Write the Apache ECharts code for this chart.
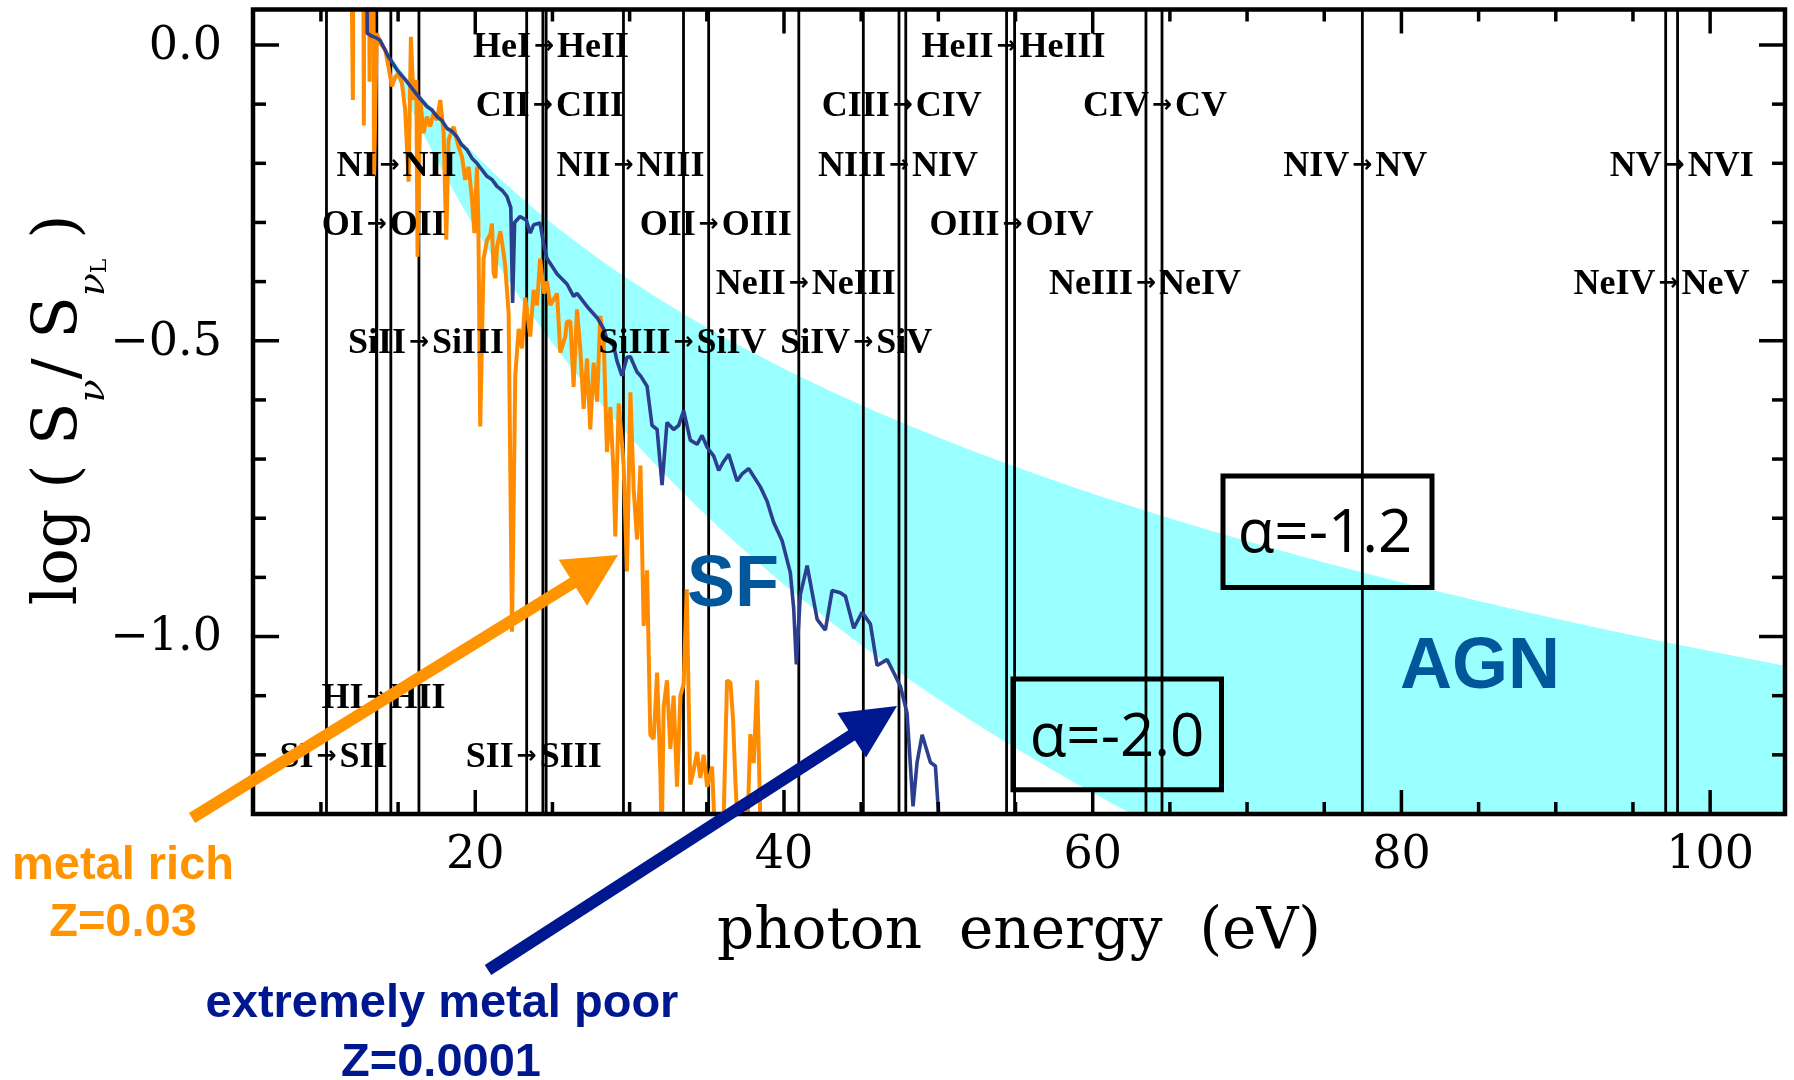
<!DOCTYPE html>
<html>
<head>
<meta charset="utf-8">
<script src="https://cdn.jsdelivr.net/npm/echarts@6/dist/echarts.min.js"></script>
<style>
  html, body { margin: 0; padding: 0; background: #fff; }
  #chart { width: 1794px; height: 1080px; }
</style>
</head>
<body>
<div id="chart"></div>
<script>
// Ionizing spectra of star-forming populations compared with AGN power laws

// axis extents
const energyRange = [5.6, 104.85];     // photon energy (eV)
const logRange = [-1.3, 0.06];         // log(S_nu / S_nuL)

// ticks and tick labels
const xTickLabels = [20, 40, 60, 80, 100];
const xMinorTicks = [10, 15, 25, 30, 35, 45, 50, 55, 65, 70, 75, 85, 90, 95];
const yTickLabels = [0, -0.5, -1.0];
const yMinorTicks = [-0.1, -0.2, -0.3, -0.4, -0.6, -0.7, -0.8, -0.9, -1.1, -1.2];

// ionization thresholds (eV)
const ionEnergies = [10.36, 13.60, 13.62, 14.53, 16.35, 23.33, 24.38, 24.59, 29.60, 33.49,
  35.12, 40.96, 45.14, 47.45, 47.89, 54.42, 54.94, 63.45, 64.49, 77.47, 97.12, 97.89];

// transition labels: [from, to, threshold energy, row]
const ionLabels = [
  ['HeI', 'HeII', 24.45, 0.0],
  ['HeII', 'HeIII', 54.42, 0.0],
  ['CII', 'CIII', 24.38, -0.1],
  ['CIII', 'CIV', 47.7, -0.1],
  ['CIV', 'CV', 64.49, -0.1],
  ['NI', 'NII', 14.45, -0.2],
  ['NII', 'NIII', 29.60, -0.2],
  ['NIII', 'NIV', 47.45, -0.2],
  ['NIV', 'NV', 77.47, -0.2],
  ['NV', 'NVI', 97.7, -0.2],
  ['OI', 'OII', 13.62, -0.3],
  ['OII', 'OIII', 35.12, -0.3],
  ['OIII', 'OIV', 54.8, -0.3],
  ['NeII', 'NeIII', 40.96, -0.4],
  ['NeIII', 'NeIV', 63.45, -0.4],
  ['NeIV', 'NeV', 97.3, -0.4],
  ['SiII', 'SiIII', 16.35, -0.5],
  ['SiIII', 'SiIV', 33.49, -0.5],
  ['SiIV', 'SiV', 45.14, -0.5],
  ['HI', 'HII', 13.60, -1.1],
  ['SI', 'SII', 10.36, -1.2],
  ['SII', 'SIII', 23.33, -1.2]
];

// AGN power-law band, normalised at the pivot energy
const agnAlphas = [-1.2, -2.0];
const agnPivotEnergy = 14.0;

// extremely metal poor population, Z = 0.0001  [eV, log flux ratio]
const metalPoorSpectrum = [
  [12.95, 0.3], [13.0, 0.02], [13.3, 0.015], [13.6, 0.012], [13.84, 0.008],
  [14.38, -0.020], [14.93, -0.042], [15.57, -0.062], [16.22, -0.084], [16.87, -0.104],
  [17.2, -0.110], [17.52, -0.121], [17.85, -0.128], [18.17, -0.141], [18.5, -0.146],
  [18.81, -0.155], [19.1, -0.168], [19.46, -0.177], [19.8, -0.192], [20.11, -0.200],
  [20.4, -0.210], [20.76, -0.222], [21.1, -0.228], [21.41, -0.239], [21.75, -0.246],
  [22.05, -0.256], [22.3, -0.275], [22.42, -0.436], [22.55, -0.300], [22.9, -0.290],
  [23.3, -0.296], [23.56, -0.318], [23.78, -0.304], [24.2, -0.301], [24.42, -0.335],
  [24.65, -0.361], [25.3, -0.387], [25.94, -0.404], [26.37, -0.425], [26.59, -0.420],
  [27.24, -0.442], [27.89, -0.461], [28.32, -0.480], [28.53, -0.498], [28.96, -0.508],
  [29.18, -0.534], [29.5, -0.559], [29.83, -0.528], [30.05, -0.527], [30.48, -0.553],
  [30.7, -0.559], [31.13, -0.577], [31.45, -0.643], [31.78, -0.650], [32.1, -0.744],
  [32.42, -0.638], [32.85, -0.650], [33.18, -0.643], [33.5, -0.618], [33.93, -0.668],
  [34.37, -0.675], [34.69, -0.660], [35.02, -0.680], [35.45, -0.695], [35.77, -0.719],
  [36.09, -0.704], [36.42, -0.692], [36.96, -0.737], [37.29, -0.725], [37.71, -0.716],
  [38.47, -0.747], [38.9, -0.771], [39.33, -0.807], [39.88, -0.838], [40.41, -0.892],
  [40.63, -0.953], [40.8, -1.047], [41.06, -0.929], [41.5, -0.880], [42.15, -0.971],
  [42.68, -0.989], [43.12, -0.922], [43.65, -0.926], [43.98, -0.932], [44.52, -0.986],
  [45.06, -0.959], [45.6, -0.979], [46.03, -1.049], [46.68, -1.039], [47.11, -1.061],
  [47.54, -1.084], [47.97, -1.129], [48.36, -1.287], [48.62, -1.213], [48.95, -1.166],
  [49.49, -1.213], [49.81, -1.219], [50.14, -1.35]
];

// metal rich population, Z = 0.03  [eV, log flux ratio]
const metalRichSpectrum = [
  [11.88, 0.4], [12.07, -0.093], [12.12, 0.4], [12.72, 0.4], [12.78, -0.136],
  [12.84, 0.4], [13.1, 0.4], [13.15, -0.062], [13.2, 0.4], [13.38, 0.4],
  [13.44, -0.222], [13.62, 0.02], [13.84, 0.003], [14.17, -0.008], [14.38, -0.037],
  [14.6, -0.070], [14.82, -0.054], [15.03, -0.048], [15.25, -0.065], [15.46, -0.110],
  [15.68, -0.231], [15.83, 0.014], [16.0, -0.093], [16.18, -0.059], [16.26, -0.358],
  [16.44, -0.093], [16.65, -0.149], [16.87, -0.121], [17.08, -0.138], [17.3, -0.115],
  [17.52, -0.127], [17.73, -0.093], [17.95, -0.149], [18.12, -0.329], [18.27, -0.160],
  [18.59, -0.138], [18.92, -0.172], [19.14, -0.189], [19.35, -0.228], [19.57, -0.206],
  [19.79, -0.262], [19.94, -0.318], [20.11, -0.206], [20.2, -0.300], [20.32, -0.645],
  [20.54, -0.361], [20.76, -0.330], [20.97, -0.320], [21.08, -0.302], [21.19, -0.386],
  [21.3, -0.394], [21.41, -0.341], [21.62, -0.315], [21.84, -0.352], [21.94, -0.374],
  [22.16, -0.453], [22.38, -0.992], [22.59, -0.559], [22.81, -0.480], [23.03, -0.513],
  [23.24, -0.427], [23.56, -0.493], [23.78, -0.414], [24.0, -0.440], [24.2, -0.361],
  [24.45, -0.420], [24.65, -0.400], [24.86, -0.440], [25.3, -0.420], [25.51, -0.520],
  [25.83, -0.493], [25.94, -0.468], [26.16, -0.467], [26.37, -0.578], [26.59, -0.447],
  [26.8, -0.513], [27.02, -0.615], [27.24, -0.530], [27.45, -0.650], [27.67, -0.537],
  [27.89, -0.603], [28.1, -0.458], [28.32, -0.500], [28.53, -0.688], [28.75, -0.612],
  [28.96, -0.724], [29.07, -0.831], [29.29, -0.606], [29.5, -0.671], [29.61, -0.710],
  [29.83, -0.890], [30.05, -0.587], [30.26, -0.750], [30.48, -0.836], [30.7, -0.711],
  [30.91, -0.982], [31.13, -0.888], [31.34, -1.166], [31.56, -1.173], [31.78, -1.061],
  [31.99, -1.230], [32.08, -1.35], [32.2, -1.120], [32.42, -1.074], [32.64, -1.190],
  [32.85, -1.100], [33.07, -1.254], [33.29, -1.100], [33.5, -1.080], [33.7, -0.920],
  [33.82, -1.100], [33.93, -1.250], [34.15, -1.226], [34.37, -1.195], [34.58, -1.239],
  [34.8, -1.200], [35.02, -1.254], [35.34, -1.220], [35.55, -1.35], [36.05, -1.35],
  [36.31, -1.074], [36.53, -1.078], [36.7, -1.140], [36.85, -1.244], [37.05, -1.35],
  [37.6, -1.35], [37.82, -1.165], [38.04, -1.214], [38.26, -1.074], [38.5, -1.35]
];

// colours
const bandColor = '#99ffff';
const poorColor = '#2b3f8e';
const richColor = '#ff8c00';
const richNoteColor = '#ff9400';
const poorNoteColor = '#00188f';
const regionColor = '#02569a';

// AGN band outline built from the two slopes
function bandPolygon() {
  const upper = [], lower = [];
  for (let e = agnPivotEnergy; e < energyRange[1] + 0.25; e += 0.25) {
    const x = Math.min(e, energyRange[1]);
    const lg = Math.log10(x / agnPivotEnergy);
    upper.push([x, Math.max(agnAlphas[0] * lg, logRange[0])]);
    lower.push([x, Math.max(agnAlphas[1] * lg, logRange[0])]);
  }
  return upper.concat(lower.reverse());
}
const bandPoints = bandPolygon();

const chart = echarts.init(document.getElementById('chart'), null, { renderer: 'canvas' });

const serif = '"DejaVu Serif", serif';
const labelFont = 'bold 36px "Liberation Serif", serif';

// text measuring for the composed y-axis title
const measureCtx = document.createElement('canvas').getContext('2d');
function textWidth(t, font) { measureCtx.font = font; return measureCtx.measureText(t).width; }

function yTitle(cx, cy) {
  const styles = {
    m: { font: '62px ' + serif, dy: 0 },
    s: { font: 'italic 38px ' + serif, dy: 34 },
    l: { font: '22px ' + serif, dy: 40 }
  };
  const parts = [['log ( S', 'm'], ['ν', 's'], ['/ S', 'm'], ['ν', 's'], ['L', 'l'], [' )', 'm']];
  const widths = parts.map(p => textWidth(p[0], styles[p[1]].font));
  const total = widths.reduce((a, b) => a + b, 0);
  let pos = -total / 2;
  const children = parts.map((p, i) => {
    const el = { type: 'text', x: pos, y: styles[p[1]].dy,
      style: { text: p[0], font: styles[p[1]].font, fill: '#000', align: 'left', verticalAlign: 'middle' } };
    pos += widths[i];
    return el;
  });
  return { type: 'group', z: 100, x: cx, y: cy, rotation: Math.PI / 2, children };
}

function arrow(tail, tip, color, shaft, headLen, headWidth) {
  const dx = tip[0] - tail[0], dy = tip[1] - tail[1];
  const len = Math.hypot(dx, dy);
  const ux = dx / len, uy = dy / len, px = -uy, py = ux;
  const bx = tip[0] - ux * headLen, by = tip[1] - uy * headLen;
  return [
    { type: 'line', z: 100, shape: { x1: tail[0], y1: tail[1], x2: bx + ux * 4, y2: by + uy * 4 },
      style: { stroke: color, lineWidth: shaft } },
    { type: 'polygon', z: 101, shape: { points: [tip,
        [bx + px * headWidth / 2, by + py * headWidth / 2],
        [bx - px * headWidth / 2, by - py * headWidth / 2]] },
      style: { fill: color } }
  ];
}

function alphaBox(alpha, rect, textPos) {
  return [
    { type: 'rect', z: 100, shape: { x: rect[0], y: rect[1], width: rect[2], height: rect[3] },
      style: { fill: 'none', stroke: '#000', lineWidth: 5 } },
    { type: 'text', z: 100, x: textPos[0], y: textPos[1],
      style: { text: 'α=' + alpha.toFixed(1), fill: '#000', align: 'center', verticalAlign: 'middle',
        font: '60px "Open Sans", sans-serif' } }
  ];
}

function note(text, x, y, color) {
  return { type: 'text', z: 100, x: x, y: y,
    style: { text: text, fill: color, align: 'center', verticalAlign: 'middle',
      font: 'bold 47px "Liberation Sans", Arial, sans-serif' } };
}

const option = {
  animation: false,
  backgroundColor: '#fff',
  grid: { left: 253, right: 9, top: 9.5, bottom: 266, show: false },
  xAxis: { type: 'value', min: energyRange[0], max: energyRange[1], show: false },
  yAxis: { type: 'value', min: logRange[0], max: logRange[1], show: false },
  series: [
    {
      name: 'AGN band', type: 'custom', z: 1, clip: true, silent: true,
      data: [[agnPivotEnergy, 0]],
      renderItem: function (params, api) {
        return { type: 'polygon', shape: { points: bandPoints.map(p => api.coord(p)) },
          style: { fill: bandColor } };
      }
    },
    {
      name: 'thresholds', type: 'custom', z: 2, silent: true,
      data: ionEnergies.map(e => [e, 0]),
      renderItem: function (params, api) {
        const cs = params.coordSys;
        const x = api.coord([api.value(0), 0])[0];
        return { type: 'line', shape: { x1: x, y1: cs.y, x2: x, y2: cs.y + cs.height },
          style: { stroke: '#000', lineWidth: 2.8 } };
      }
    },
    {
      name: 'metal rich', type: 'line', z: 3, data: metalRichSpectrum, showSymbol: false,
      symbol: 'none', clip: true, lineStyle: { color: richColor, width: 4 }
    },
    {
      name: 'extremely metal poor', type: 'line', z: 3, data: metalPoorSpectrum, showSymbol: false,
      symbol: 'none', clip: true, lineStyle: { color: poorColor, width: 3.6 }
    },
    {
      name: 'transitions', type: 'custom', z: 4, silent: true,
      data: ionLabels.map(l => [l[2], l[3]]),
      renderItem: function (params, api) {
        const item = ionLabels[params.dataIndex];
        const p = api.coord([item[2], item[3]]);
        const y = p[1] + 3;
        return { type: 'group', children: [
          { type: 'text', style: { text: item[0], x: p[0] - 13, y: y, align: 'right',
              verticalAlign: 'middle', font: labelFont, fill: '#000' } },
          { type: 'text', style: { text: '→', x: p[0], y: y - 1, align: 'center',
              verticalAlign: 'middle', font: 'bold 24px "DejaVu Sans", sans-serif', fill: '#000' } },
          { type: 'text', style: { text: item[1], x: p[0] + 13, y: y, align: 'left',
              verticalAlign: 'middle', font: labelFont, fill: '#000' } }
        ] };
      }
    },
    {
      name: 'frame', type: 'custom', z: 5, silent: true,
      data: [[energyRange[0], logRange[0]]],
      renderItem: function (params, api) {
        const cs = params.coordSys;
        const left = cs.x, right = cs.x + cs.width, top = cs.y, bottom = cs.y + cs.height;
        const children = [];
        const seg = (x1, y1, x2, y2) => children.push({ type: 'line',
          shape: { x1, y1, x2, y2 }, style: { stroke: '#000', lineWidth: 3.5 } });
        const text = (t, x, y, align) => children.push({ type: 'text',
          style: { text: t, x, y, align, verticalAlign: 'middle', font: '46px ' + serif, fill: '#000' } });
        xMinorTicks.forEach(v => {
          const x = api.coord([v, logRange[0]])[0];
          seg(x, bottom, x, bottom - 12); seg(x, top, x, top + 12);
        });
        xTickLabels.forEach(v => {
          const x = api.coord([v, logRange[0]])[0];
          seg(x, bottom, x, bottom - 24); seg(x, top, x, top + 24);
          text(String(v), x, bottom + 42, 'center');
        });
        yMinorTicks.forEach(v => {
          const y = api.coord([energyRange[0], v])[1];
          seg(left, y, left + 13, y); seg(right, y, right - 13, y);
        });
        yTickLabels.forEach(v => {
          const y = api.coord([energyRange[0], v])[1];
          seg(left, y, left + 26, y); seg(right, y, right - 26, y);
          const t = v < 0 ? '\u2212' + Math.abs(v).toFixed(1) : v.toFixed(1);
          text(t, left - 31, y + 2, 'right');
        });
        children.push({ type: 'rect', shape: { x: left, y: top, width: cs.width, height: cs.height },
          style: { fill: 'none', stroke: '#000', lineWidth: 4.5 } });
        return { type: 'group', children };
      }
    }
  ],
  graphic: {
    elements: [
      { type: 'text', z: 100, x: 1019, y: 933,
        style: { text: 'photon  energy  (eV)', fill: '#000', align: 'center', verticalAlign: 'middle',
          font: '58px ' + serif } },
      yTitle(60, 410),
      { type: 'text', z: 100, x: 733, y: 586,
        style: { text: 'SF', fill: regionColor, align: 'center', verticalAlign: 'middle',
          font: 'bold 72px "Liberation Sans", Arial, sans-serif' } },
      { type: 'text', z: 100, x: 1480, y: 668,
        style: { text: 'AGN', fill: regionColor, align: 'center', verticalAlign: 'middle',
          font: 'bold 72px "Liberation Sans", Arial, sans-serif' } },
      ...alphaBox(agnAlphas[0], [1223, 476, 209, 111.5], [1325, 535]),
      ...alphaBox(agnAlphas[1], [1013, 679, 208.5, 110.7], [1117, 739]),
      ...arrow([192, 818], [618, 555], richNoteColor, 12, 53, 54),
      ...arrow([488, 970], [897, 706], poorNoteColor, 12, 54, 53),
      note('metal rich', 123, 866, richNoteColor),
      note('Z=0.03', 123, 923, richNoteColor),
      note('extremely metal poor', 442, 1004, poorNoteColor),
      note('Z=0.0001', 441, 1063, poorNoteColor)
    ]
  }
};

chart.setOption(option);
</script>
</body>
</html>
